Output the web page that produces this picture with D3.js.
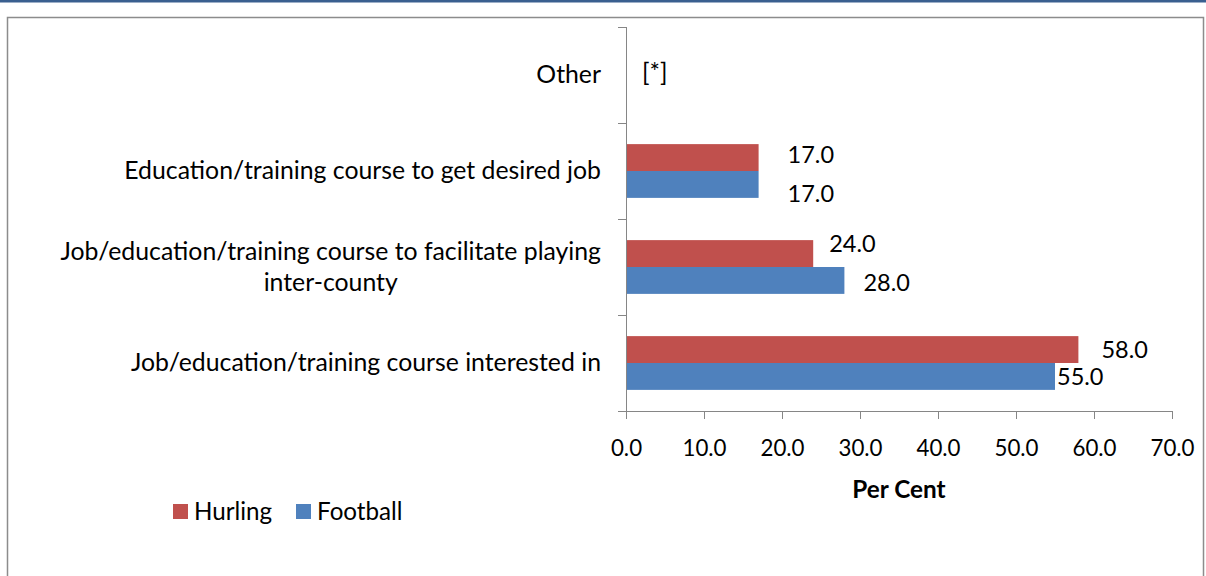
<!DOCTYPE html>
<html><head><meta charset="utf-8">
<script src="https://cdn.jsdelivr.net/npm/d3@7"></script>
<style>body{margin:0;background:#fff;} svg{display:block;} text{font-family:Lato,"Noto Sans",sans-serif;fill:#000;}</style>
</head><body>
<svg id="c" width="1206" height="576"></svg>
<script>
const categories = ["Other","Education/training course to get desired job","Job/education/training course to facilitate playing inter-county","Job/education/training course interested in"];
const categoryLines = [["Other"],["Education/training course to get desired job"],["Job/education/training course to facilitate playing","inter-county"],["Job/education/training course interested in"]];
const seriesNames = ["Hurling","Football"];
const hurling = [null,17.0,24.0,58.0];
const football = [null,17.0,28.0,55.0];
const otherNote = "[*]";
const xTicks = [0,10,20,30,40,50,60,70];
const axisTitle = "Per Cent";

// ---- styling / layout ----
const colors = ["#c0504d","#4f81bd"];
const FONT = "Lato,'Noto Sans',sans-serif";
const catFS = 24.8, valFS = 23.5, tickFS = 22.3, legFS = 24.2, titleFS = 24.3;
// manual data-label nudges (as placed in the original chart), per series per category: [dx, dy]
const labelNudge = [
  [null,[29,-3.5],[16,-10],[23,0]],
  [null,[29,9],[19,2],[2,0]]
];

const svg = d3.select("#c");
svg.append("rect").attr("x",0).attr("y",0).attr("width",1206).attr("height",2.5).attr("fill","#3a5f8f");
svg.append("path").attr("d","M7.5,576 V17.5 H1203.5 V576").attr("fill","none").attr("stroke","#8c8c8c").attr("stroke-width",1.5);

const x0=626, x1=1172, yTop=27, yBot=411;
const x = d3.scaleLinear().domain([0,70]).range([x0,x1]);
const y = d3.scaleBand().domain(categories).range([yTop,yBot]).paddingInner(0.44).paddingOuter(0.22);
const ys = d3.scaleBand().domain(seriesNames).range([0,y.bandwidth()]);

const series=[hurling,football];
series.forEach((vals,si)=>{
  const g=svg.append("g");
  categories.forEach((c,i)=>{
    if(vals[i]==null) return;
    g.append("rect").attr("x",x(0)).attr("y",y(c)+ys(seriesNames[si])).attr("width",x(vals[i])-x(0)).attr("height",ys.bandwidth()).attr("fill",colors[si]);
    const [dx,dy]=labelNudge[si][i];
    g.append("text").attr("x",x(vals[i])+dx).attr("y",y(c)+ys(seriesNames[si])+ys.bandwidth()/2+dy).attr("dy","0.36em")
      .attr("font-size",valFS).text(d3.format(".1f")(vals[i]));
  });
});
svg.append("text").attr("x",x(0)+16).attr("y",y(categories[0])+y.bandwidth()/2-3).attr("dy","0.36em").attr("font-size",24.5).text(otherNote);

const xa=svg.append("g").attr("transform",`translate(0,${yBot})`).call(d3.axisBottom(x).tickValues(xTicks).tickFormat(d3.format(".1f")).tickSize(8));
xa.select(".domain").attr("stroke","#868686").attr("d",`M${x0},0.5H${x1}`);
xa.selectAll(".tick line").attr("stroke","#868686");
xa.selectAll(".tick text").attr("font-size",tickFS).attr("font-family",FONT).attr("fill","#000").attr("y",36.5).attr("dy","0.36em");

const ya=svg.append("g");
ya.append("line").attr("x1",x0+0.5).attr("x2",x0+0.5).attr("y1",yTop).attr("y2",yBot).attr("stroke","#868686");
d3.range(categories.length+1).forEach(i=>{
  const yy=yTop+i*(yBot-yTop)/categories.length;
  ya.append("line").attr("x1",x0-8).attr("x2",x0).attr("y1",yy+0.5).attr("y2",yy+0.5).attr("stroke","#868686");
});
categories.forEach((c,i)=>{
  const lines=categoryLines[i];
  const cy=y(c)+y.bandwidth()/2;
  const lh=31;
  if(lines.length===1){
    svg.append("text").attr("font-size",catFS).attr("text-anchor","end").attr("x",601).attr("y",cy-1).attr("dy","0.36em").text(lines[0]);
  } else {
    const tmp=svg.append("text").attr("font-size",catFS).text(lines[0]);
    const wid=tmp.node().getComputedTextLength(); tmp.remove();
    const cx=601-wid/2;
    lines.forEach((l,k)=>{
      svg.append("text").attr("font-size",catFS).attr("text-anchor","middle").attr("x",cx)
        .attr("y",cy+(k-(lines.length-1)/2)*lh).attr("dy","0.36em").text(l);
    });
  }
});

svg.append("text").attr("x",(x0+x1)/2).attr("y",489).attr("dy","0.36em").attr("text-anchor","middle").attr("font-size",titleFS).attr("font-weight","bold").text(axisTitle);

const lg=svg.append("g");
const lx=[173,296];
seriesNames.forEach((n,i)=>{
  lg.append("rect").attr("x",lx[i]).attr("y",504).attr("width",15).attr("height",15).attr("fill",colors[i]);
  lg.append("text").attr("x",lx[i]+21).attr("y",511).attr("dy","0.36em").attr("font-size",legFS).text(n);
});
</script>
</body></html>
